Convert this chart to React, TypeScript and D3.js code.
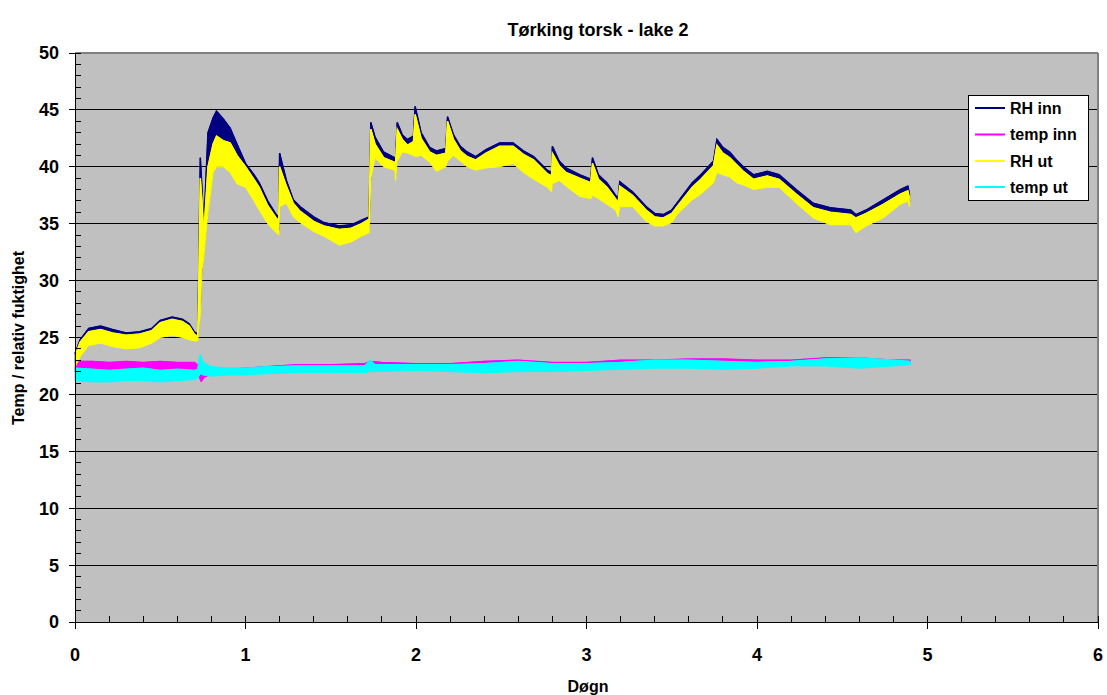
import React from "react";
import * as d3 from "d3";

// ---- data ----
const title = "Tørking torsk - lake 2";
const xTitle = "Døgn";
const yTitle = "Temp / relativ fuktighet";
const seriesNames = ["RH inn", "temp inn", "RH ut", "temp ut"];
const seriesColors = ["#000080", "#FF00FF", "#FFFF00", "#00FFFF"];
const xTicks = [0, 1, 2, 3, 4, 5, 6];
const yTicks = [0, 5, 10, 15, 20, 25, 30, 35, 40, 45, 50];

// RH series: time (døgn), envelope high / low of the noisy traces
const rhTime = [0.00, 0.03, 0.08, 0.15, 0.22, 0.30, 0.38, 0.45, 0.50, 0.57, 0.63, 0.67, 0.70, 0.72, 0.725, 0.735, 0.745, 0.755, 0.78, 0.81, 0.83, 0.87, 0.91, 0.95, 1.00, 1.05, 1.08, 1.13, 1.18, 1.195, 1.20, 1.24, 1.28, 1.32, 1.40, 1.46, 1.55, 1.62, 1.68, 1.725, 1.735, 1.76, 1.81, 1.875, 1.88, 1.89, 1.92, 1.95, 1.985, 1.995, 2.03, 2.08, 2.12, 2.175, 2.185, 2.22, 2.26, 2.30, 2.35, 2.41, 2.49, 2.57, 2.63, 2.69, 2.77, 2.795, 2.80, 2.84, 2.88, 2.96, 3.025, 3.035, 3.07, 3.12, 3.17, 3.185, 3.195, 3.27, 3.35, 3.40, 3.45, 3.50, 3.53, 3.62, 3.67, 3.745, 3.765, 3.80, 3.84, 3.88, 3.92, 3.98, 4.06, 4.13, 4.23, 4.33, 4.43, 4.55, 4.58, 4.64, 4.74, 4.84, 4.885, 4.895];
const rhInnHi = [23.6, 24.8, 25.8, 26.0, 25.7, 25.4, 25.5, 25.8, 26.5, 26.8, 26.6, 26.2, 25.5, 25.3, 30.0, 40.8, 38.0, 34.6, 43.0, 44.3, 44.9, 44.2, 43.4, 42.0, 40.3, 39.3, 38.6, 37.0, 35.8, 35.6, 41.2, 38.8, 37.1, 36.5, 35.6, 35.1, 34.8, 34.9, 35.3, 35.6, 43.9, 42.6, 41.3, 40.8, 40.6, 43.9, 42.8, 42.4, 42.7, 45.3, 43.0, 41.7, 41.4, 41.6, 44.4, 42.8, 41.8, 41.3, 40.9, 41.5, 42.1, 42.1, 41.4, 40.9, 39.7, 39.5, 41.8, 40.5, 39.9, 39.3, 38.9, 40.8, 39.3, 38.6, 37.5, 37.2, 38.7, 37.8, 36.5, 35.9, 35.8, 36.2, 36.8, 38.6, 39.3, 40.5, 42.4, 41.7, 41.3, 40.6, 40.0, 39.3, 39.6, 39.3, 38.0, 36.8, 36.4, 36.2, 35.8, 36.2, 37.1, 38.0, 38.3, 37.5];
const rhInnLo = [22.8, 23.7, 24.7, 24.9, 24.6, 24.4, 24.5, 24.9, 25.4, 25.6, 25.4, 25.2, 25.1, 25.1, 26.4, 27.4, 31.4, 32.4, 36.4, 39.9, 40.4, 40.4, 39.9, 38.9, 38.6, 37.4, 36.6, 35.4, 34.6, 34.4, 36.9, 37.2, 36.0, 35.5, 34.7, 34.3, 33.5, 33.8, 34.3, 34.6, 39.4, 41.2, 40.4, 40.1, 39.2, 40.9, 41.7, 41.6, 41.4, 41.3, 41.4, 40.8, 40.0, 40.4, 40.9, 41.4, 40.9, 40.4, 40.1, 40.3, 40.4, 40.7, 39.9, 39.3, 38.6, 38.2, 38.9, 39.2, 38.7, 37.8, 37.6, 37.9, 37.6, 37.1, 36.6, 36.0, 36.9, 36.9, 35.6, 35.2, 35.2, 35.5, 36.2, 37.5, 38.0, 39.0, 39.9, 39.7, 39.5, 39.0, 38.8, 38.4, 38.6, 38.6, 37.2, 35.9, 35.3, 35.3, 34.6, 35.2, 35.9, 37.1, 37.4, 36.9];
const rhUtHi = [23.4, 24.6, 25.5, 25.7, 25.4, 25.2, 25.3, 25.6, 26.3, 26.6, 26.4, 26.0, 25.3, 25.1, 29.0, 39.0, 37.0, 34.0, 40.0, 42.0, 42.7, 42.3, 42.1, 41.0, 40.0, 38.9, 38.2, 36.6, 35.5, 35.3, 40.0, 38.3, 36.8, 36.1, 35.2, 34.8, 34.5, 34.6, 35.0, 35.4, 43.3, 42.0, 40.8, 40.4, 40.2, 43.3, 42.4, 41.9, 42.2, 44.6, 42.5, 41.3, 41.0, 41.2, 44.0, 42.4, 41.4, 40.9, 40.6, 41.2, 41.8, 41.8, 41.1, 40.6, 39.4, 39.2, 41.2, 40.1, 39.5, 39.0, 38.6, 40.3, 38.9, 38.2, 37.2, 36.8, 38.3, 37.5, 36.2, 35.6, 35.5, 35.9, 36.5, 38.2, 38.9, 40.1, 41.9, 41.2, 40.8, 40.2, 39.6, 38.9, 39.2, 38.9, 37.6, 36.4, 36.0, 35.8, 35.5, 35.9, 36.7, 37.6, 37.9, 37.2];
const rhUtLo = [22.4, 23.3, 24.3, 24.5, 24.2, 24.0, 24.1, 24.5, 25.0, 25.2, 25.0, 24.8, 24.7, 24.7, 26.0, 27.0, 31.0, 32.0, 36.0, 39.5, 40.0, 40.0, 39.5, 38.5, 38.2, 37.0, 36.2, 35.0, 34.2, 34.0, 36.5, 36.8, 35.6, 35.1, 34.3, 33.9, 33.1, 33.4, 33.9, 34.2, 39.0, 40.8, 40.0, 39.7, 38.8, 40.5, 41.3, 41.2, 41.0, 40.9, 41.0, 40.4, 39.6, 40.0, 40.5, 41.0, 40.5, 40.0, 39.7, 39.9, 40.0, 40.3, 39.5, 38.9, 38.2, 37.8, 38.5, 38.8, 38.3, 37.4, 37.2, 37.5, 37.2, 36.7, 36.2, 35.6, 36.5, 36.5, 35.2, 34.8, 34.8, 35.1, 35.8, 37.1, 37.6, 38.6, 39.5, 39.3, 39.1, 38.6, 38.4, 38.0, 38.2, 38.2, 36.8, 35.5, 34.9, 34.9, 34.2, 34.8, 35.5, 36.7, 37.0, 36.5];

// temperature series
const tempInnTime = [0.00, 0.10, 0.20, 0.30, 0.40, 0.50, 0.60, 0.70, 0.72, 0.74, 0.76, 0.80, 0.90, 1.00, 1.10, 1.30, 1.50, 1.70, 1.73, 1.80, 2.00, 2.20, 2.40, 2.60, 2.80, 3.00, 3.20, 3.40, 3.60, 3.80, 4.00, 4.20, 4.40, 4.60, 4.80, 4.90];
const tempInnHi = [22.9, 22.9, 22.8, 22.9, 22.8, 22.9, 22.8, 22.8, 22.6, 22.4, 22.2, 22.1, 22.2, 22.3, 22.4, 22.6, 22.6, 22.7, 22.9, 22.8, 22.7, 22.7, 22.9, 23.0, 22.8, 22.8, 23.0, 23.0, 23.1, 23.1, 23.0, 23.0, 23.2, 23.2, 23.0, 23.0];
const tempInnLo = [22.0, 22.1, 22.0, 22.1, 22.0, 22.1, 22.0, 21.9, 21.8, 21.1, 21.5, 21.8, 21.9, 22.0, 22.1, 22.2, 22.3, 22.3, 22.4, 22.4, 22.4, 22.4, 22.5, 22.6, 22.5, 22.5, 22.6, 22.7, 22.7, 22.7, 22.7, 22.7, 22.8, 22.8, 22.7, 22.8];
const tempUtTime = [0.00, 0.10, 0.20, 0.30, 0.40, 0.50, 0.60, 0.70, 0.72, 0.735, 0.75, 0.80, 0.90, 1.00, 1.10, 1.30, 1.50, 1.70, 1.73, 1.76, 2.00, 2.20, 2.40, 2.60, 2.80, 3.00, 3.20, 3.40, 3.60, 3.80, 4.00, 4.20, 4.40, 4.60, 4.80, 4.90];
const tempUtHi = [22.3, 22.2, 22.1, 22.2, 22.3, 22.1, 22.2, 22.1, 22.2, 23.5, 22.8, 22.4, 22.3, 22.3, 22.4, 22.5, 22.5, 22.5, 23.0, 22.6, 22.6, 22.6, 22.7, 22.9, 22.7, 22.7, 22.8, 23.0, 23.0, 22.9, 22.8, 22.9, 23.1, 23.2, 23.0, 22.9];
const tempUtLo = [21.2, 21.1, 21.1, 21.2, 21.2, 21.1, 21.2, 21.3, 21.4, 21.8, 21.7, 21.6, 21.7, 21.7, 21.8, 21.9, 21.9, 21.9, 22.0, 22.0, 22.1, 22.0, 21.9, 22.0, 22.0, 22.1, 22.2, 22.3, 22.3, 22.2, 22.3, 22.5, 22.5, 22.3, 22.5, 22.6];

const FONT = "'Liberation Sans', Arial, sans-serif";

type Band = { t: number[]; hi: number[]; lo: number[]; c: string };

export default function App() {
  const W = 1107, H = 695;
  const left = 75, right = 1098, top = 53, bottom = 622;
  const x = d3.scaleLinear().domain([0, 6]).range([left, right]);
  const y = d3.scaleLinear().domain([0, 50]).range([bottom, top]);

  const bands: Band[] = [
    { t: rhTime, hi: rhInnHi, lo: rhInnLo, c: seriesColors[0] },
    { t: tempInnTime, hi: tempInnHi, lo: tempInnLo, c: seriesColors[1] },
    { t: rhTime, hi: rhUtHi, lo: rhUtLo, c: seriesColors[2] },
    { t: tempUtTime, hi: tempUtHi, lo: tempUtLo, c: seriesColors[3] },
  ];

  const bandPath = (b: Band) => {
    const idx = b.t.map((_, i) => i);
    return d3
      .area<number>()
      .x((i) => x(b.t[i]))
      .y0((i) => y(b.lo[i]))
      .y1((i) => y(b.hi[i]))(idx) as string;
  };
  const linePath = (b: Band) => {
    const idx = b.t.map((_, i) => i);
    return d3
      .line<number>()
      .x((i) => x(b.t[i]))
      .y((i) => y(b.hi[i]))(idx) as string;
  };

  const minorY = d3.range(0, 51, 1).filter((v) => v % 5 !== 0);
  const minorX = d3.range(0, 6.001, 0.2).filter((v) => Math.abs(v - Math.round(v)) > 0.01);

  const legendY = [108, 134.5, 161, 187];

  return (
    <svg width={W} height={H} style={{ position: "absolute", left: 0, top: 0, background: "#fff" }} fontFamily={FONT}>
      <rect x={0} y={0} width={W} height={H} fill="#fff" />
      <rect x={left} y={top} width={right - left} height={bottom - top} fill="#C0C0C0" />
      {yTicks.filter((v) => v > 0 && v < 50).map((v) => (
        <line key={"g" + v} x1={left} x2={right} y1={y(v)} y2={y(v)} stroke="#000" strokeWidth={1} shapeRendering="crispEdges" />
      ))}
      <line x1={left} x2={right} y1={y(50)} y2={y(50)} stroke="#808080" strokeWidth={1.5} shapeRendering="crispEdges" />
      <line x1={right} x2={right} y1={top} y2={bottom} stroke="#808080" strokeWidth={1.5} shapeRendering="crispEdges" />

      {bands.map((b, i) => (
        <g key={"s" + i}>
          <path d={bandPath(b)} fill={b.c} stroke={b.c} strokeWidth={1} />
          <path d={linePath(b)} fill="none" stroke={b.c} strokeWidth={1.5} />
        </g>
      ))}

      {/* axes */}
      <line x1={left} x2={left} y1={top} y2={bottom} stroke="#000" strokeWidth={1} shapeRendering="crispEdges" />
      <line x1={left} x2={right} y1={bottom} y2={bottom} stroke="#000" strokeWidth={1} shapeRendering="crispEdges" />
      {yTicks.map((v) => (
        <line key={"yt" + v} x1={left - 6} x2={left + 6} y1={y(v)} y2={y(v)} stroke="#000" shapeRendering="crispEdges" />
      ))}
      {minorY.map((v) => (
        <line key={"ym" + v} x1={left} x2={left + 6} y1={y(v)} y2={y(v)} stroke="#000" shapeRendering="crispEdges" />
      ))}
      {xTicks.map((v) => (
        <line key={"xt" + v} x1={x(v)} x2={x(v)} y1={bottom - 6} y2={bottom + 7} stroke="#000" shapeRendering="crispEdges" />
      ))}
      {minorX.map((v) => (
        <line key={"xm" + v} x1={x(v)} x2={x(v)} y1={bottom - 6} y2={bottom} stroke="#000" shapeRendering="crispEdges" />
      ))}
      {yTicks.map((v) => (
        <text key={"yl" + v} x={59} y={y(v)} dy="0.36em" textAnchor="end" fontSize={18} fontWeight="bold">{v}</text>
      ))}
      {xTicks.map((v) => (
        <text key={"xl" + v} x={x(v)} y={661} textAnchor="middle" fontSize={18} fontWeight="bold">{v}</text>
      ))}

      <text x={598} y={36} textAnchor="middle" fontSize={18} fontWeight="bold">{title}</text>
      <text x={588} y={692} textAnchor="middle" fontSize={16} fontWeight="bold">{xTitle}</text>
      <text transform={`translate(24,338) rotate(-90)`} textAnchor="middle" fontSize={16} fontWeight="bold">{yTitle}</text>

      {/* legend */}
      <rect x={968.5} y={95.5} width={120} height={105} fill="#fff" stroke="#000" strokeWidth={1} />
      {seriesNames.map((n, i) => (
        <g key={"l" + i}>
          <line x1={975} x2={1005} y1={legendY[i]} y2={legendY[i]} stroke={seriesColors[i]} strokeWidth={2} />
          <text x={1010} y={legendY[i]} dy="0.36em" fontSize={16} fontWeight="bold">{n}</text>
        </g>
      ))}
    </svg>
  );
}
